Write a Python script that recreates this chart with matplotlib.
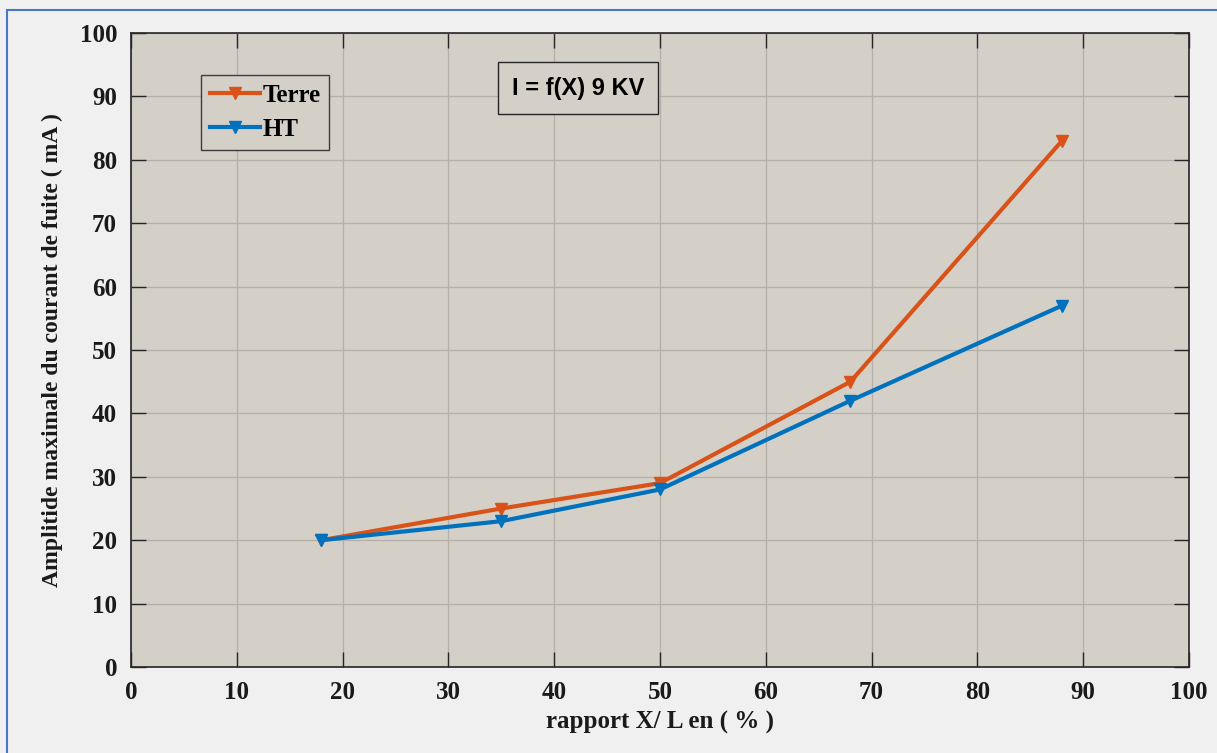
import matplotlib.pyplot as plt
import matplotlib.patches as patches

# data
x_pct = [18, 35, 50, 68, 88]
terre = [20, 25, 29, 45, 83]
ht = [20, 23, 28, 42, 57]
x_ticks = list(range(0, 101, 10))
y_ticks = list(range(0, 101, 10))

serif = "Liberation Serif"

fig = plt.figure(figsize=(12.17, 7.53), dpi=100, facecolor="#f0f0f0")
ax = fig.add_axes([0.1076, 0.1142, 0.8694, 0.842])
ax.set_facecolor("#d4d0c8")

# screenshot frame
fig.patches.append(
    patches.Rectangle(
        (7 / 1217, -0.1), 1.2, 1.1 - 10 / 753,
        transform=fig.transFigure, fill=False, edgecolor="#4a78c8", linewidth=1.5,
    )
)

ax.plot(x_pct, terre, color="#d95319", linewidth=3, marker="v", markersize=8,
        label="Terre", zorder=3)
ax.plot(x_pct, ht, color="#0072bd", linewidth=3, marker="v", markersize=8,
        label="HT", zorder=3)

ax.set_xlim(0, 100)
ax.set_ylim(0, 100)
ax.set_xticks(x_ticks)
ax.set_yticks(y_ticks)
ax.grid(True, color="#b4b0a9", linewidth=0.9)
ax.set_axisbelow(True)
ax.tick_params(direction="in", length=11, width=1, top=True, right=True,
               colors="#262626", labelcolor="#1a1a1a", pad=10)
for lab in ax.get_xticklabels() + ax.get_yticklabels():
    lab.set_fontfamily(serif)
    lab.set_fontweight("bold")
    lab.set_fontsize(18)
for sp in ax.spines.values():
    sp.set_color("#262626")
    sp.set_linewidth(1.2)

ax.set_xlabel("rapport X/ L en ( % )", fontfamily=serif, fontweight="bold",
              fontsize=18, labelpad=5, color="#1a1a1a")
ax.set_ylabel("Amplitide maximale du courant de fuite ( mA )", fontfamily=serif,
              fontweight="bold", fontsize=17, labelpad=12, color="#1a1a1a")

leg = ax.legend(loc="upper left", bbox_to_anchor=(0.0665, 0.934),
                prop=dict(family=serif, weight="bold", size=18),
                fancybox=False, framealpha=1, facecolor="#d4d0c8",
                edgecolor="#3c3c3c", handlelength=2.0, handletextpad=0.1,
                borderpad=0.35, labelspacing=0.45, borderaxespad=0)
leg.get_frame().set_linewidth(1)

ax.text(0.36, 0.913, "I = f(X) 9 KV", transform=ax.transAxes,
        fontfamily="Liberation Sans", fontweight="bold", fontsize=17,
        ha="left", va="center",
        bbox=dict(boxstyle="square,pad=0.6", facecolor="#d4d0c8",
                  edgecolor="#262626", linewidth=1))

fig.savefig("out.png", dpi=100, facecolor=fig.get_facecolor())
